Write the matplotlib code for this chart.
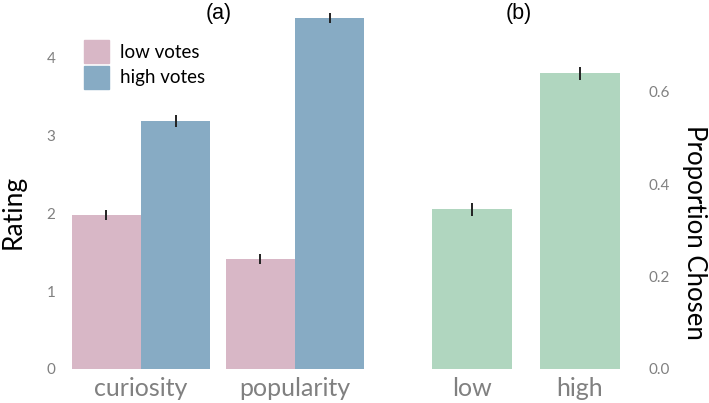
import numpy as np
import matplotlib
matplotlib.use("Agg")
import matplotlib.pyplot as plt
from matplotlib.patches import Patch

plt.rcParams['font.family'] = ['Lato', 'DejaVu Sans']

# panel (a): ratings
groups = ['curiosity', 'popularity']
low_votes = [1.98, 1.42]
low_err = [0.07, 0.065]
high_votes = [3.19, 4.51]
high_err = [0.08, 0.065]

# panel (b): proportion chosen
choice_labels = ['low', 'high']
proportion = [0.346, 0.640]
proportion_err = [0.014, 0.014]

pink = '#d8b7c6'
blue = '#87abc4'
green = '#b0d6bf'
tick_grey = '#808080'

W, H = 709, 403
fig = plt.figure(figsize=(W / 100, H / 100), dpi=100)

def frac(x0, x1, ytop, ybot):
    return [x0 / W, 1 - ybot / H, (x1 - x0) / W, (ybot - ytop) / H]

ax1 = fig.add_axes(frac(64, 372, 12, 369))
ax2 = fig.add_axes(frac(410, 628, 12, 369))

x = np.arange(len(groups))
bw = 0.45
ax1.bar(x - bw / 2, low_votes, bw, color=pink, yerr=low_err,
        error_kw=dict(ecolor='#222222', elinewidth=1.4, capsize=0))
ax1.bar(x + bw / 2, high_votes, bw, color=blue, yerr=high_err,
        error_kw=dict(ecolor='#222222', elinewidth=1.4, capsize=0))
ax1.set_xlim(-0.5, 1.5)
ax1.set_ylim(0, 4.59)
ax1.set_xticks(x)
ax1.set_xticklabels(groups)
ax1.set_yticks([0, 1, 2, 3, 4])
handles = [Patch(color=pink, label='low votes'), Patch(color=blue, label='high votes')]
ax1.legend(handles=handles, loc='upper left', bbox_to_anchor=(0.065, 0.922),
           frameon=False, fontsize=13.5, handlelength=1.35, handleheight=1.55,
           labelspacing=0.12, handletextpad=0.55, borderpad=0, borderaxespad=0)

x2 = np.arange(len(choice_labels))
ax2.bar(x2, proportion, 0.74, color=green, yerr=proportion_err,
        error_kw=dict(ecolor='#222222', elinewidth=1.4, capsize=0))
ax2.set_xlim(-62 / 108, 156 / 108)
ax2.set_ylim(0, 0.773)
ax2.set_xticks(x2)
ax2.set_xticklabels(choice_labels)
ax2.set_yticks([0.0, 0.2, 0.4, 0.6])
ax2.yaxis.tick_right()

for ax in (ax1, ax2):
    for s in ax.spines.values():
        s.set_visible(False)
    ax.tick_params(axis='both', length=0, colors=tick_grey)
    ax.tick_params(axis='x', labelsize=18, pad=6)
    ax.tick_params(axis='y', labelsize=11)
ax1.tick_params(axis='y', pad=6)
ax2.tick_params(axis='y', pad=15)

# axis labels and panel titles
fig.text(13 / W, 1 - 212 / H, 'Rating', fontsize=19, rotation=90,
         ha='center', va='center')
fig.text(695 / W, 1 - 232 / H, 'Proportion Chosen', fontsize=18.5,
         rotation=270, ha='center', va='center')
fig.text(219 / W, 1 - 13 / H, '(a)', fontsize=15.5, family='Liberation Sans',
         ha='center', va='center')
fig.text(519 / W, 1 - 13 / H, '(b)', fontsize=15.5, family='Liberation Sans',
         ha='center', va='center')

fig.savefig('out.png', dpi=100)
